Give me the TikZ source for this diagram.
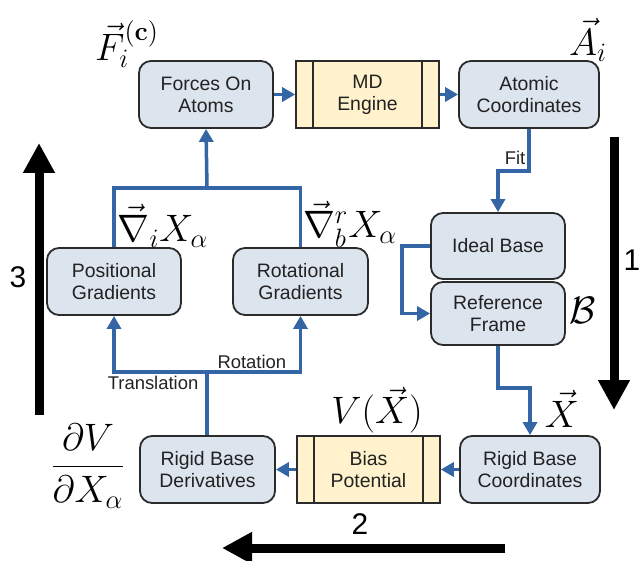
\documentclass[tikz,border=0pt]{standalone}
\usepackage[no-math]{fontspec}
\setmainfont{Liberation Sans}
\usetikzlibrary{arrows.meta}

\begin{document}
\begin{tikzpicture}[x=1bp, y=-1bp,
  procbox/.style={draw=boxline, line width=1.8bp, fill=procfill, rounded corners=12bp,
    minimum width=134bp, minimum height=67bp, align=center, text=boxtext,
    font=\fontsize{19.5}{22}\selectfont},
  enginebox/.style={draw=boxline, line width=1.6bp, fill=enginefill,
    minimum width=143bp, minimum height=67bp, align=center, text=boxtext,
    font=\fontsize{19.5}{22}\selectfont,
    path picture={\draw[boxline, line width=1.6bp]
      ([xshift=17bp]path picture bounding box.north west) -- ([xshift=17bp]path picture bounding box.south west)
      ([xshift=-17bp]path picture bounding box.north east) -- ([xshift=-17bp]path picture bounding box.south east);}},
  flow/.style={draw=flowblue, line width=3.5bp, -{Triangle[length=13bp,width=14bp]}},
  link/.style={draw=flowblue, line width=3.5bp},
  stage/.style={line width=9bp, -{Triangle[length=30bp,width=30bp]}},
  symb/.style={font=\huge, scale=1.85},
  small/.style={font=\fontsize{18.5}{21}\selectfont, text=boxtext, inner sep=2bp},
  stagenum/.style={font=\fontsize{30}{34}\selectfont}]
% Define colors
\definecolor{boxline}{RGB}{43, 43, 43}
\definecolor{boxtext}{RGB}{34, 34, 34}
\definecolor{procfill}{RGB}{220, 228, 238}
\definecolor{enginefill}{RGB}{255, 242, 204}
\definecolor{flowblue}{RGB}{52, 101, 164}

\useasboundingbox (0,0) rectangle (640,561);

% Top row
\node[procbox] (forces) at (206,94.5) {Forces On\\Atoms};
\node[enginebox] (engine) at (367.5,94.5) {MD\\Engine};
\node[procbox, minimum width=140bp] (atoms) at (529,94.5) {Atomic\\Coordinates};

% Base frame
\node[procbox, minimum height=66bp] (ideal) at (498,246) {Ideal Base};
\node[procbox, minimum height=63bp] (frame) at (498,313.5) {Reference\\Frame};

% Gradients
\node[procbox] (posgrad) at (114,281.5) {Positional\\Gradients};
\node[procbox, minimum width=135bp] (rotgrad) at (300.5,281.5) {Rotational\\Gradients};

% Bottom row
\node[procbox, minimum width=135bp] (deriv) at (207.5,469.5) {Rigid Base\\Derivatives};
\node[enginebox] (bias) at (368.5,469.5) {Bias\\Potential};
\node[procbox, minimum width=140bp] (coords) at (530,469.5) {Rigid Base\\Coordinates};

% Symbols
\node[symb] (flbl) at (127,44) {$\vec{F}_i^{\mathbf{(c)}}$};
\node[symb] (albl) at (588,40) {$\vec{A}_i$};
\node[symb] (gilbl) at (163,226) {$\vec{\nabla}_i X_\alpha$};
\node[symb] (gblbl) at (350,224) {$\vec{\nabla}^r_b X_\alpha$};
\node[symb] (blbl) at (583,310) {$\mathcal{B}$};
\node[symb] (xlbl) at (562,409) {$\vec{X}$};
\node[symb] (vlbl) at (377,410) {$V(\vec{X})$};
\node[symb] (dvlbl) at (88,466) {$\displaystyle\frac{\partial V}{\partial X_\alpha}$};

% Connectors
\draw[flow] (forces) -- (engine);
\draw[flow] (engine) -- (atoms);
\draw[flow] (atoms.south) -- node[pos=0.7, left, small]{Fit} ++(0,42) -| (ideal.north);
\draw[flow] (ideal.west) -- ++(-28,0) |- (frame.west);
\draw[flow] (frame.south) -- ++(0,42) -| (coords.north);
\draw[flow] (coords) -- (bias);
\draw[flow] (bias) -- (deriv);

\coordinate (split) at (207,372);
\draw[link] (deriv.north -| split) -- (split);
\draw[flow] (split) -| node[pos=0.29, below, small]{Translation} (posgrad.south);
\draw[flow] (split) -| node[pos=0.24, above, small]{Rotation} (rotgrad.south);

\coordinate (merge) at (207,188);
\draw[link] (posgrad.north) |- (merge) -| (rotgrad.north);
\draw[flow] (merge) -- (forces.south);

% Stages
\coordinate (s1a) at (614,137);
\coordinate (s1b) at (614,410);
\coordinate (s2a) at (505,548);
\coordinate (s2b) at (222,548);
\coordinate (s3a) at (39,415);
\coordinate (s3b) at (39,143);
\draw[stage] (s1a) -- (s1b);
\draw[stage] (s2a) -- (s2b);
\draw[stage] (s3a) -- (s3b);
\node[stagenum] (n1) at (632,260) {1};
\node[stagenum] (n2) at (360,524) {2};
\node[stagenum] (n3) at (18,277) {3};

\end{tikzpicture}
\end{document}
